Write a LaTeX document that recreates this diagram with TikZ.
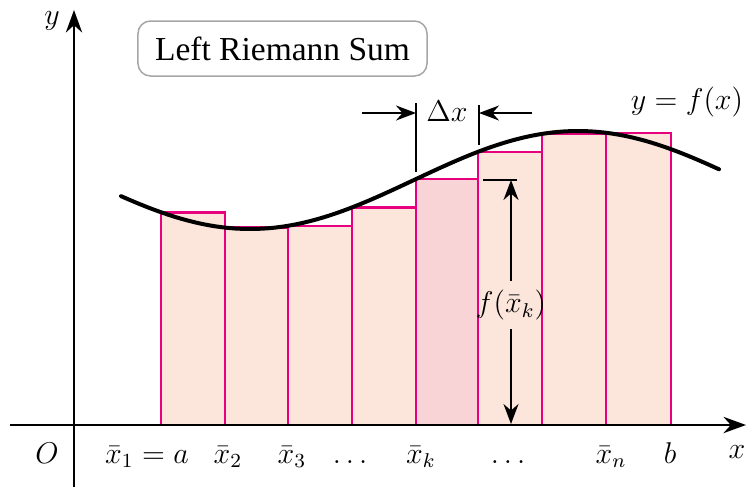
\documentclass[tikz,border=0pt]{standalone}
\usepackage{fontspec}
\setmainfont{Liberation Serif}
\usepackage{xcolor}
\definecolor{mag}{HTML}{E6007E}
\definecolor{magtint}{HTML}{FCE6DC}
\definecolor{magdeep}{HTML}{F9D4D6}
\usepackage{tikz}
\usetikzlibrary{positioning,arrows.meta}

\begin{document}
\begin{tikzpicture}[x=0.4pt,y=-0.4pt,font=\fontsize{12}{14}\selectfont,
  declare function={fkt(\q)=180+49*cos(0.54878*(\q-250));},
  balken/.style={draw=mag,line width=1pt,fill=magtint},
  pfeil/.style={-{Stealth[length=8pt,width=6pt]},line width=0.8pt},
  achse/.style={-{Stealth[length=9pt,width=6.5pt]},line width=1pt}]
  \useasboundingbox (0,0) rectangle (747,487);
  % rectangles, height at left endpoint
  \foreach \xa/\xb in {161/225,225/288,288/352,352/416,478/542,542/606,606/671}
    \draw[balken] (\xa,425) rectangle (\xb,{fkt(\xa)});
  \draw[balken,fill=magdeep] (416,425) rectangle (478,{fkt(416)});
  % axes
  \coordinate (xs) at (10,425); \coordinate (xe) at (746,425);
  \coordinate (ys) at (74,487); \coordinate (ye) at (74,10);
  \draw[achse] (xs) -- (xe); \draw[achse] (ys) -- (ye);
  % curve
  \draw[line width=1.6pt,line cap=round] plot[domain=121:719,samples=90] (\x,{fkt(\x)});
  \node[draw=gray!70,rounded corners=5pt,line width=0.6pt,minimum width=115.6pt,minimum height=22pt,font=\fontsize{13.4}{15}\selectfont] (titel) at (282.5,48.5) {Left Riemann Sum};
  \node (ylab) at (52,21) {$y$};
  \node (olab) at (47,453) {$O$};
  \node[anchor=base] (xlab) at (737,458) {$x$};
  \node (flab) at (687,102) {$y=f(x)$};
  % tick labels
  \node[anchor=base] (x1) at (147,463) {$\bar{x}_1=a$};
  \node[anchor=base] (x2) at (228,463) {$\bar{x}_2$};
  \node[anchor=base] (x3) at (292,463) {$\bar{x}_3$};
  \node[anchor=base] (d1) at (350,463) {$\dots$};
  \node[anchor=base] (xk) at (421,463) {$\bar{x}_k$};
  \node[anchor=base] (d2) at (508,463) {$\dots$};
  \node[anchor=base] (xn) at (611,463) {$\bar{x}_n$};
  \node[anchor=base] (b) at (670,463) {$b$};
  % delta x
  \coordinate (dlt) at (416,103); \coordinate (dlb) at (416,172);
  \coordinate (drt) at (479,105); \coordinate (drb) at (479,145);
  \draw[line width=0.8pt] (dlt) -- (dlb); \draw[line width=0.8pt] (drt) -- (drb);
  \coordinate (al) at (362,113); \coordinate (alm) at (416,113);
  \coordinate (ar) at (532,113); \coordinate (arm) at (479,113);
  \draw[pfeil] (al) -- (alm); \draw[pfeil] (ar) -- (arm);
  \node (dx) at (447,111) {$\Delta x$};
  % height f(xk)
  \coordinate (tl) at (483,180); \coordinate (tr) at (517,180);
  \draw[line width=0.8pt] (tl) -- (tr);
  \coordinate (ftop) at (511,180); \coordinate (fbot) at (511,424);
  \node (fk) at (511,305) {$f(\bar{x}_k)$};
  \draw[pfeil] (fk) -- (ftop); \draw[pfeil] (fk) -- (fbot);
\end{tikzpicture}
\end{document}
